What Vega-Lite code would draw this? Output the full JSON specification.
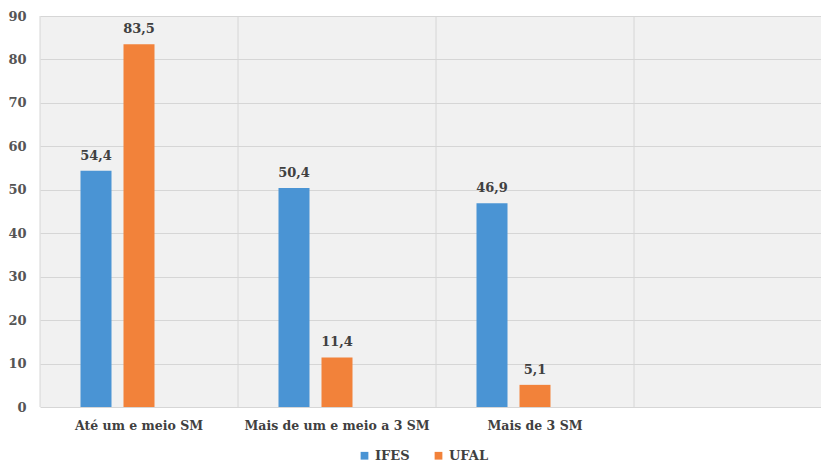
{
  "$schema": "https://vega.github.io/schema/vega-lite/v6.json",
  "autosize": {"type": "none"},
  "width": 792,
  "height": 391,
  "padding": {"left": 40, "top": 16, "right": 0, "bottom": 59},
  "background": "white",
  "config": {
    "view": {"fill": "#f1f1f1", "stroke": null},
    "font": "DejaVu Serif",
    "legend": {"labelFont": "DejaVu Serif", "labelFontWeight": "bold"}
  },
  "datasets": {
    "bars": [
      {"cat": "Até um e meio SM", "serie": "IFES", "valor": 54.4, "rotulo": "54,4"},
      {"cat": "Até um e meio SM", "serie": "UFAL", "valor": 83.5, "rotulo": "83,5"},
      {"cat": "Mais de um e meio a 3 SM", "serie": "IFES", "valor": 50.4, "rotulo": "50,4"},
      {"cat": "Mais de um e meio a 3 SM", "serie": "UFAL", "valor": 11.4, "rotulo": "11,4"},
      {"cat": "Mais de 3 SM", "serie": "IFES", "valor": 46.9, "rotulo": "46,9"},
      {"cat": "Mais de 3 SM", "serie": "UFAL", "valor": 5.1, "rotulo": "5,1"}
    ],
    "cats": [
      {"cat": "Até um e meio SM"},
      {"cat": "Mais de um e meio a 3 SM"},
      {"cat": "Mais de 3 SM"},
      {"cat": "vazio"}
    ]
  },
  "layer": [
    {
      "data": {"name": "cats"},
      "mark": {"type": "rule", "color": "#d6d6d6", "strokeWidth": 1},
      "encoding": {
        "x": {"field": "cat", "type": "nominal", "bandPosition": 0,
              "scale": {"domain": ["Até um e meio SM", "Mais de um e meio a 3 SM", "Mais de 3 SM", "vazio"], "padding": 0},
              "axis": {"title": null, "labelAngle": 0, "ticks": false, "domain": false, "grid": false,
                       "bandPosition": 0.5, "labelAlign": "center", "labelLimit": 0,
                       "labelExpr": "datum.value == 'vazio' ? '' : datum.value",
                       "labelFont": "DejaVu Serif", "labelFontWeight": "bold", "labelFontSize": 12.5,
                       "labelColor": "#404040", "labelPadding": 12}},
        "y": {"value": 0},
        "y2": {"value": 391}
      }
    },
    {
      "data": {"name": "bars"},
      "mark": {"type": "bar"},
      "encoding": {
        "x": {"field": "cat", "type": "nominal", "sort": null,
              "scale": {"domain": ["Até um e meio SM", "Mais de um e meio a 3 SM", "Mais de 3 SM", "vazio"], "padding": 0},
              "axis": {"title": null, "labelAngle": 0, "ticks": false, "domain": false, "grid": false,
                       "bandPosition": 0.5, "labelAlign": "center", "labelLimit": 0,
                       "labelExpr": "datum.value == 'vazio' ? '' : datum.value",
                       "labelFont": "DejaVu Serif", "labelFontWeight": "bold", "labelFontSize": 12.5,
                       "labelColor": "#404040", "labelPadding": 12}},
        "xOffset": {"field": "serie", "type": "nominal",
                    "scale": {"domain": ["IFES", "UFAL", "S3"], "paddingInner": 0.279, "paddingOuter": 0.942}},
        "y": {"field": "valor", "type": "quantitative",
              "scale": {"domain": [0, 90], "nice": false},
              "axis": {"title": null, "values": [0, 10, 20, 30, 40, 50, 60, 70, 80, 90], "ticks": false, "domain": false,
                       "gridColor": "#d6d6d6", "gridWidth": 1,
                       "labelFont": "DejaVu Serif", "labelFontWeight": "bold", "labelFontSize": 13,
                       "labelColor": "#555555", "labelPadding": 14}},
        "color": {"field": "serie", "type": "nominal",
                  "scale": {"domain": ["IFES", "UFAL"], "range": ["#4a94d4", "#f2823a"]},
                  "legend": {"title": null, "orient": "none", "direction": "horizontal",
                             "legendX": 318, "legendY": 433, "symbolType": "square", "symbolSize": 60,
                             "labelFont": "DejaVu Serif", "labelFontWeight": "bold", "labelFontSize": 13,
                             "labelColor": "#404040", "columnPadding": 22, "labelOffset": 4}}
      }
    },
    {
      "data": {"name": "bars"},
      "mark": {"type": "text", "baseline": "bottom", "dy": -8, "font": "DejaVu Serif", "fontWeight": "bold", "fontSize": 13, "color": "#404040"},
      "encoding": {
        "x": {"field": "cat", "type": "nominal",
              "scale": {"domain": ["Até um e meio SM", "Mais de um e meio a 3 SM", "Mais de 3 SM", "vazio"], "padding": 0}},
        "xOffset": {"field": "serie", "type": "nominal",
                    "scale": {"domain": ["IFES", "UFAL", "S3"], "paddingInner": 0.279, "paddingOuter": 0.942}},
        "y": {"field": "valor", "type": "quantitative"},
        "text": {"field": "rotulo", "type": "nominal"}
      }
    }
  ]
}
